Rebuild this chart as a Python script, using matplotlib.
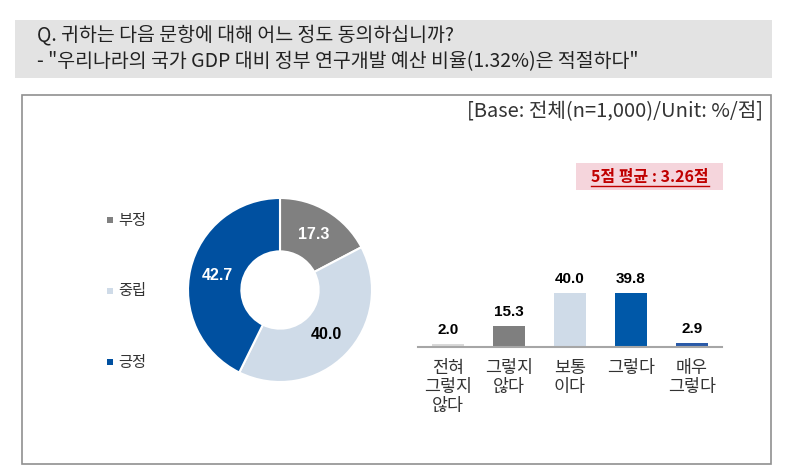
import matplotlib
import numpy as np

matplotlib.use("Agg")
import matplotlib.pyplot as plt  # noqa: E402
from matplotlib.patches import Rectangle  # noqa: E402
from matplotlib.lines import Line2D  # noqa: E402

plt.rcParams["font.family"] = ["Noto Sans CJK KR", "DejaVu Sans"]

W, H = 789, 472

title_lines = ["Q. 귀하는 다음 문항에 대해 어느 정도 동의하십니까?",
               '- "우리나라의 국가 GDP 대비 정부 연구개발 예산 비율(1.32%)은 적절하다"']
base_note = "[Base: 전체(n=1,000)/Unit: %/점]"
avg_note = "5점 평균 : 3.26점"

donut_labels = ["부정", "중립", "긍정"]
donut_values = [17.3, 40.0, 42.7]
donut_colors = ["#808080", "#cfdbe8", "#0050a0"]
donut_text_colors = ["white", "black", "white"]

bar_labels = ["전혀\n그렇지\n않다", "그렇지\n않다", "보통\n이다", "그렇다", "매우\n그렇다"]
bar_values = [2.0, 15.3, 40.0, 39.8, 2.9]
bar_colors = ["#d9d9d9", "#7f7f7f", "#cfdbe8", "#0058a8", "#2a5aa8"]


def px_axes(fig, x0, y0, x1, y1):
    """Axes from pixel box (top-left origin)."""
    return fig.add_axes([x0 / W, 1 - y1 / H, (x1 - x0) / W, (y1 - y0) / H])


fig = plt.figure(figsize=(W / 100, H / 100), dpi=100)

# background overlay for boxes and free text
bg = fig.add_axes([0, 0, 1, 1])
bg.set_xlim(0, W)
bg.set_ylim(H, 0)
bg.axis("off")
bg.add_patch(Rectangle((15, 20), 757, 58, facecolor="#e3e3e3", edgecolor="none"))
bg.add_patch(Rectangle((22, 95), 749, 369, facecolor="none", edgecolor="#909090", lw=1.2))
bg.text(37, 35, title_lines[0], fontsize=14, va="center", color="#222222")
bg.text(37, 62, title_lines[1], fontsize=14, va="center", color="#222222")
bg.text(763, 112, base_note, fontsize=14.5, ha="right", va="center", color="#333333")
bg.add_patch(Rectangle((576, 163), 147, 27, facecolor="#f5d5dc", edgecolor="none"))
avg_txt = bg.text(650, 177, avg_note, fontsize=11.5, ha="center", va="center",
                  color="#c00000", fontweight="bold", style="italic")

# legend for donut
for lab, col, y in zip(donut_labels, donut_colors, [220, 291, 362]):
    bg.add_patch(Rectangle((107, y - 3), 6, 6, facecolor=col, edgecolor="none"))
    bg.text(118, y, lab, fontsize=11, va="center", color="#333333")

# donut
ax_d = px_axes(fig, 280 - 92, 290 - 92, 280 + 92, 290 + 92)
wedges, _, autotexts = ax_d.pie(
    donut_values, colors=donut_colors, startangle=90, counterclock=False,
    radius=1, autopct="%.1f", pctdistance=0.70,
    wedgeprops=dict(width=0.58, edgecolor="white", linewidth=1.5),
    textprops=dict(fontsize=11.5, fontweight="bold", family=["Liberation Sans", "DejaVu Sans"]))
for t, c in zip(autotexts, donut_text_colors):
    t.set_color(c)
ax_d.set_xlim(-1, 1)
ax_d.set_ylim(-1, 1)
ax_d.set_aspect("equal")

# bars
ax_b = px_axes(fig, 417.5, 347 - 67.5, 722.5, 347)
x = np.arange(len(bar_values))
bars = ax_b.bar(x, bar_values, width=0.54, color=bar_colors)
ax_b.set_xlim(-0.5, 4.5)
ax_b.set_ylim(0, 50)
for b, v in zip(bars, bar_values):
    ax_b.annotate(f"{v:.1f}", (b.get_x() + b.get_width() / 2, v), xytext=(0, 10),
                  textcoords="offset points", ha="center", va="center",
                  fontsize=11, fontweight="bold", annotation_clip=False,
                  family=["Liberation Sans", "DejaVu Sans"])
for s in ["top", "right", "left"]:
    ax_b.spines[s].set_visible(False)
ax_b.spines["bottom"].set_color("#a6a6a6")
ax_b.spines["bottom"].set_linewidth(1.5)
ax_b.set_yticks([])
ax_b.set_xticks(x)
ax_b.set_xticklabels(bar_labels, fontsize=12.5, color="#333333", linespacing=1.05,
                     va="top")
ax_b.tick_params(axis="x", length=0, pad=9)
ax_b.patch.set_alpha(0)

# underline the average note
fig.canvas.draw()
bb = avg_txt.get_window_extent().transformed(bg.transData.inverted())
bg.add_line(Line2D([bb.x0, bb.x1], [bb.y0 + 0.5, bb.y0 + 0.5], color="#c00000", lw=1))

fig.savefig("out.png", dpi=100)
